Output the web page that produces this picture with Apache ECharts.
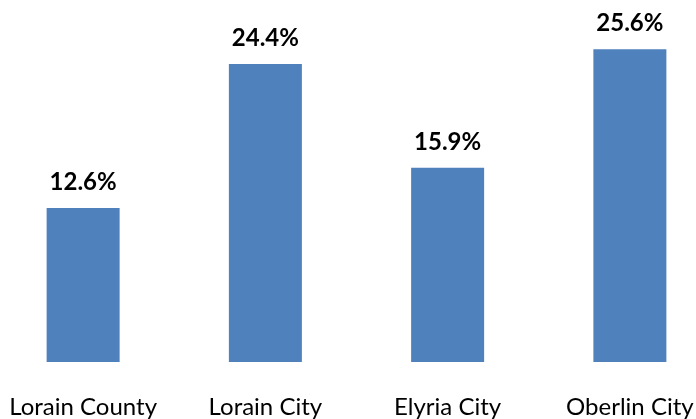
<!DOCTYPE html>
<html>
<head>
<meta charset="utf-8">
<script src="https://cdn.jsdelivr.net/npm/echarts@6/dist/echarts.min.js"></script>
<style>
  html, body { margin: 0; padding: 0; background: #fff; overflow: hidden; }
  #wrap { width: 696px; height: 419px; overflow: hidden; position: relative; }
  #chart { width: 729px; height: 419px; position: absolute; left: -8px; top: 0; }
</style>
</head>
<body>
<div id="wrap"><div id="chart"></div></div>
<script>
const places = ['Lorain County', 'Lorain City', 'Elyria City', 'Oberlin City']
const rates = [12.6, 24.4, 15.9, 25.6]

let myChart = echarts.init(document.getElementById('chart'))

let option = {
  animation: false,
  textStyle: { fontFamily: 'Lato' },
  grid: {
    left: 0,
    right: 0,
    top: 20,
    bottom: 55
  },
  xAxis: {
    type: 'category',
    data: places,
    axisLine: { show: false },
    axisTick: { show: false },
    axisLabel: {
      color: '#000',
      fontSize: 24,
      margin: 33,
      interval: 0
    }
  },
  yAxis: {
    type: 'value',
    min: 0,
    max: 28,
    show: false,
    splitLine: { show: false }
  },
  series: [
    {
      type: 'bar',
      data: rates,
      barWidth: 73,
      itemStyle: { color: '#4F81BD' },
      label: {
        show: true,
        position: 'top',
        distance: 14,
        color: '#000',
        fontWeight: 'bold',
        fontSize: 24,
        formatter: p => p.value.toFixed(1) + '%'
      }
    }
  ]
}
myChart.setOption(option)
</script>
</body>
</html>
